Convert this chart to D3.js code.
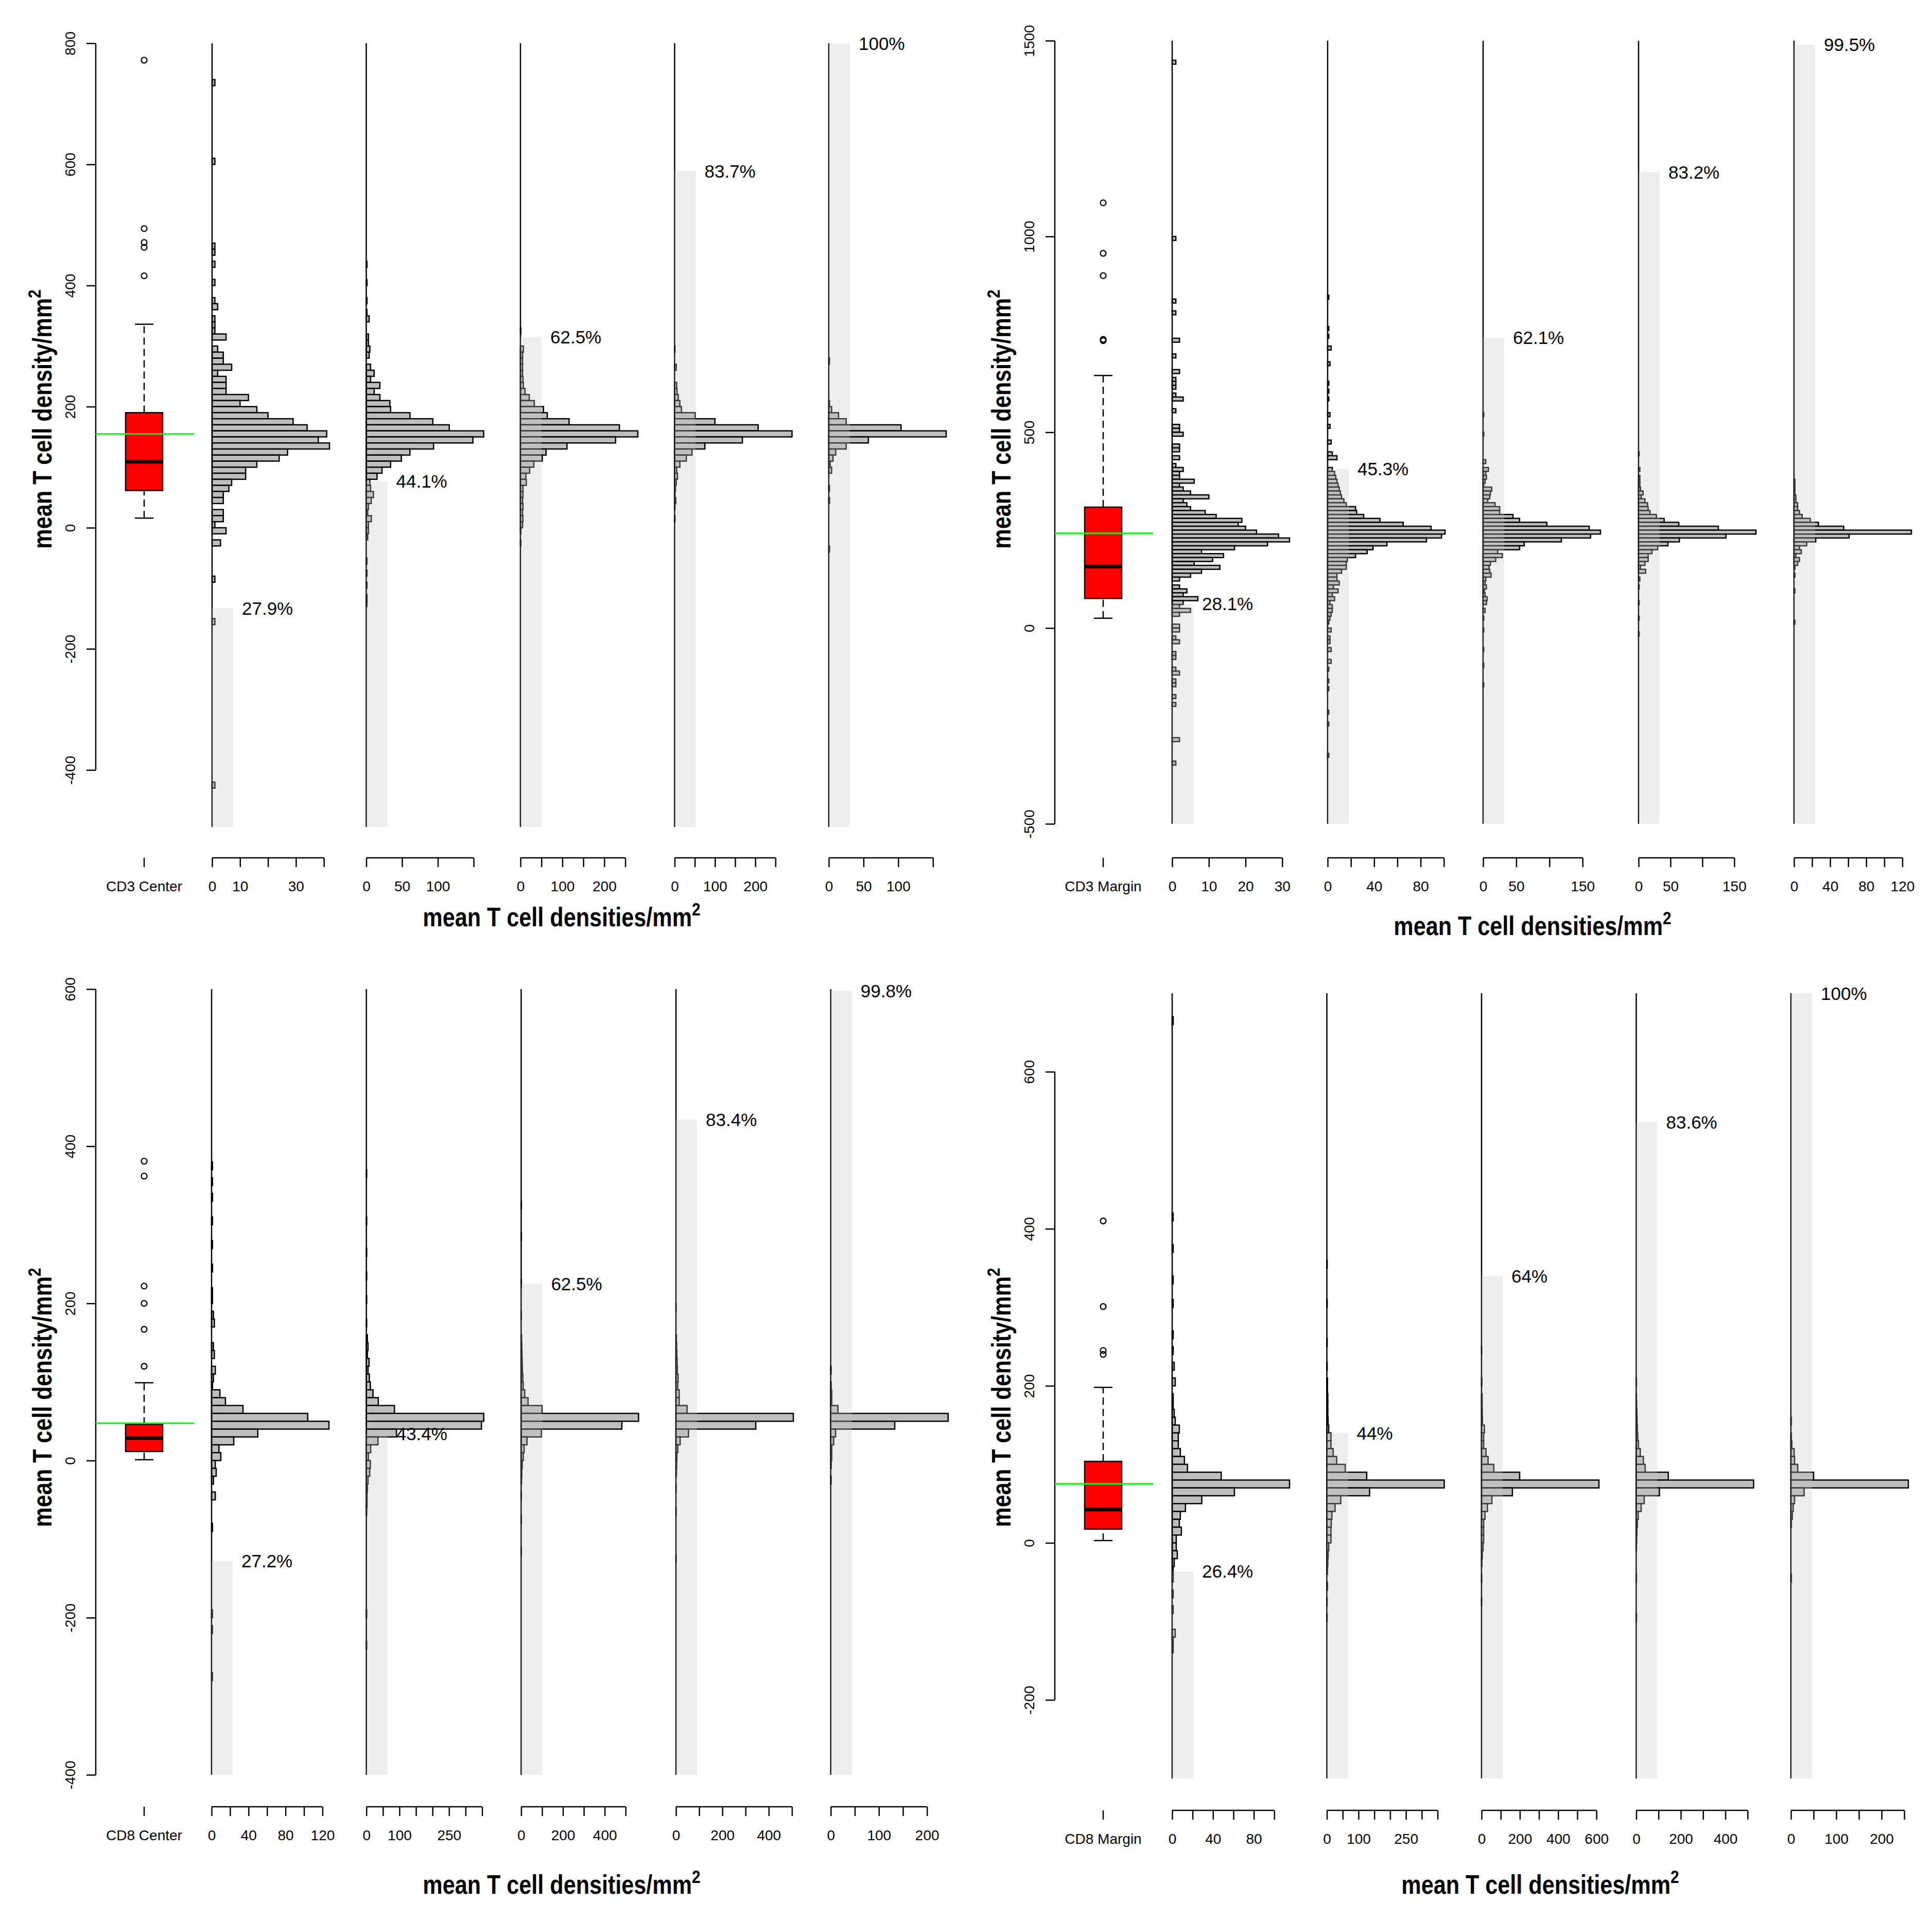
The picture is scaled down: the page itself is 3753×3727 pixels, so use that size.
<!DOCTYPE html>
<html><head><meta charset="utf-8">
<script src="https://cdn.jsdelivr.net/npm/d3@7"></script>
<style>html,body{margin:0;padding:0;background:#fff;} text{font-family:"Liberation Sans",Arial,Helvetica,sans-serif;fill:#000;}</style>
</head><body><svg id="chart" width="3753" height="3727" xmlns="http://www.w3.org/2000/svg"></svg>
<script>
// ---------------- DATA ----------------
const BIN = 10;
const categories = ["CD3 Center", "CD3 Margin", "CD8 Center", "CD8 Margin"];
const yAxisTitle = "mean T cell density/mm";
const xAxisTitle = "mean T cell densities/mm";

// y domains and y ticks
const yDomCD3C = [-494, 800];  const yTicksCD3C = [-400, -200, 0, 200, 400, 600, 800];
const yDomCD3M = [-500, 1500]; const yTicksCD3M = [-500, 0, 500, 1000, 1500];
const yDomCD8C = [-400, 600];  const yTicksCD8C = [-400, -200, 0, 200, 400, 600];
const yDomCD8M = [-300, 700];  const yTicksCD8M = [-200, 0, 200, 400, 600];

// boxplot stats: [lower whisker, Q1, median, Q3, upper whisker]
const boxCD3C = [16, 61.5, 109, 190, 336];
const boxCD3M = [25, 75.6, 157, 308.7, 645];
const boxCD8C = [1, 11.5, 28.5, 46, 99];
const boxCD8M = [3, 17.5, 42.4, 103.7, 198];
const outCD3C = [772, 494, 471, 463, 416];
const outCD3M = [1086, 957, 900, 737, 734];
const outCD8C = [381, 362, 222, 200, 167, 120];
const outCD8M = [410, 301, 245, 240];
const meanCD3C = 155, meanCD3M = 242, meanCD8C = 47.5, meanCD8M = 75.3;

// percentages (grey background bars)
const pctCD3C = [27.9, 44.1, 62.5, 83.7, 100];
const pctCD3M = [28.1, 45.3, 62.1, 83.2, 99.5];
const pctCD8C = [27.2, 43.4, 62.5, 83.4, 99.8];
const pctCD8M = [26.4, 44, 64, 83.6, 100];

// bottom axis ticks and their labels per histogram
const xtCD3C = [[0,10,20,30,40],[0,50,100,150],[0,50,100,150,200,250],[0,50,100,150,200,250],[0,50,100,150]];
const xlCD3C = [["0","10","","30",""],["0","50","100",""],["0","","100","","200",""],["0","","100","","200",""],["0","50","100",""]];
const xtCD3M = [[0,10,20,30],[0,20,40,60,80,100],[0,50,100,150],[0,50,100,150],[0,20,40,60,80,100,120]];
const xlCD3M = [["0","10","20","30"],["0","","40","","80",""],["0","50","","150"],["0","50","","150"],["0","","40","","80","","120"]];
const xtCD8C = [[0,20,40,60,80,100,120],[0,50,100,150,200,250,300,350],[0,100,200,300,400,500],[0,100,200,300,400,500],[0,50,100,150,200]];
const xlCD8C = [["0","","40","","80","","120"],["0","","100","","","250","",""],["0","","200","","400",""],["0","","200","","400",""],["0","","100","","200"]];
const xtCD8M = [[0,20,40,60,80,100],[0,50,100,150,200,250,300,350],[0,100,200,300,400,500,600],[0,100,200,300,400,500],[0,50,100,150,200,250]];
const xlCD8M = [["0","","40","","80",""],["0","","100","","","250","",""],["0","","200","","400","","600"],["0","","200","","400",""],["0","","100","","200",""]];

// histograms: [bin start, count], bin width = BIN
const hCD3C_1 = [[730,1],[600,1],[460,1],[450,1],[430,1],[400,1],[370,1],[360,2],[340,1],[330,1],[320,1],[310,5],[290,2],[280,4],[270,4],[260,7],[250,2],[240,5],[230,5],[220,5],[210,13],[200,10],[190,16],[180,20],[170,29],[160,34],[150,41],[140,38],[130,42],[120,27],[110,24],[100,16],[90,12],[80,12],[70,7],[60,6],[50,4],[40,4],[20,4],[10,4],[0,1],[-10,5],[-30,3],[-90,1],[-160,1],[-430,1]];
const hCD3C_2 = [[430,1],[400,1],[370,1],[350,1],[340,4],[310,3],[300,3],[290,5],[280,4],[260,6],[250,11],[240,6],[230,19],[220,11],[210,19],[200,33],[190,34],[180,61],[170,93],[160,116],[150,164],[140,149],[130,94],[120,61],[110,49],[100,34],[90,22],[80,15],[70,5],[60,6],[50,10],[40,7],[30,3],[20,2],[10,7],[0,3],[-10,3],[-20,2],[-60,1],[-80,1],[-100,1],[-120,1],[-130,1]];
const hCD3C_3 = [[320,1],[290,7],[280,5],[270,5],[260,5],[250,5],[240,6],[230,7],[220,11],[210,21],[200,33],[190,55],[180,64],[170,116],[160,236],[150,280],[140,227],[130,111],[120,61],[110,52],[100,32],[90,22],[80,13],[70,14],[60,6],[50,6],[40,5],[30,6],[20,5],[10,6],[0,5],[-10,1],[-30,1]];
const hCD3C_4 = [[290,1],[260,4],[230,5],[220,6],[210,9],[200,13],[190,17],[180,51],[170,100],[160,207],[150,291],[140,168],[130,75],[120,43],[110,29],[100,13],[90,5],[80,7],[70,4],[60,2],[50,1],[40,3],[30,1],[10,1]];
const hCD3C_5 = [[270,1],[200,1],[190,4],[180,14],[170,25],[160,104],[150,169],[140,57],[130,25],[120,10],[110,6],[100,2],[90,4],[60,1],[40,1],[-40,1]];

const hCD3M_1 = [[1440,1],[990,1],[830,1],[800,1],[730,2],[690,1],[650,2],[630,1],[620,1],[610,1],[590,1],[580,3],[550,1],[510,2],[500,2],[490,3],[460,2],[450,2],[430,2],[410,1],[400,3],[390,2],[380,2],[370,6],[360,2],[350,3],[340,5],[330,10],[320,3],[310,4],[300,5],[290,9],[280,12],[270,19],[260,18],[250,20],[240,23],[230,29],[220,32],[210,26],[200,17],[190,8],[180,14],[170,11],[160,6],[150,13],[140,8],[130,5],[120,2],[100,2],[90,4],[80,3],[70,7],[60,3],[50,2],[40,5],[30,2],[0,2],[-10,2],[-30,1],[-40,2],[-70,1],[-80,1],[-110,1],[-120,2],[-140,1],[-150,1],[-180,1],[-200,1],[-290,2],[-350,1]];
const hCD3M_2 = [[840,1],[760,1],[740,1],[710,3],[670,2],[620,1],[600,1],[580,1],[540,2],[510,2],[470,3],[440,4],[430,8],[400,4],[390,6],[380,7],[370,8],[360,9],[350,10],[340,11],[330,12],[320,14],[310,16],[300,24],[290,25],[280,31],[270,45],[260,65],[250,89],[240,101],[230,98],[220,85],[210,51],[200,39],[190,34],[180,24],[170,17],[160,16],[150,16],[140,12],[130,8],[120,8],[110,10],[100,5],[90,9],[80,4],[70,6],[60,2],[50,4],[40,4],[30,3],[20,2],[10,1],[-10,3],[-30,2],[-40,2],[-60,3],[-90,3],[-110,1],[-140,1],[-160,1],[-220,1],[-250,1],[-330,1]];
const hCD3M_3 = [[540,1],[490,1],[420,4],[400,8],[390,4],[380,5],[370,3],[360,1],[350,13],[340,11],[330,10],[320,7],[310,18],[300,25],[290,25],[280,45],[270,55],[260,96],[250,160],[240,177],[230,162],[220,118],[210,62],[200,55],[190,22],[180,29],[170,19],[160,11],[150,9],[140,10],[130,12],[120,4],[110,3],[100,5],[90,2],[80,3],[70,6],[60,5],[40,3],[20,1],[-10,1],[-60,1],[-100,1],[-150,1]];
const hCD3M_4 = [[440,1],[400,2],[380,2],[370,2],[360,2],[350,3],[340,7],[330,4],[320,10],[310,14],[300,15],[290,18],[280,28],[270,40],[260,63],[250,125],[240,184],[230,137],[220,64],[210,46],[200,30],[190,21],[180,15],[170,15],[160,10],[150,3],[140,11],[120,2],[100,1],[60,1],[20,1],[-20,1]];
const hCD3M_5 = [[370,1],[360,1],[350,1],[340,1],[330,2],[320,2],[310,4],[300,4],[290,6],[280,9],[270,18],[260,27],[250,55],[240,130],[230,61],[220,24],[210,14],[200,6],[190,8],[180,2],[170,6],[160,4],[150,1],[130,1],[90,1],[10,1]];

const hCD8C_1 = [[370,1],[350,1],[330,1],[300,1],[270,1],[240,1],[210,1],[200,1],[180,2],[170,3],[140,2],[130,3],[110,4],[100,2],[90,1],[80,9],[70,15],[60,34],[50,104],[40,127],[30,50],[20,24],[10,8],[0,10],[-10,4],[-20,5],[-30,2],[-50,4],[-90,1],[-200,1],[-220,1],[-280,1]];
const hCD8C_2 = [[360,1],[300,1],[260,1],[230,1],[200,1],[170,1],[150,3],[140,5],[130,3],[120,8],[110,5],[100,9],[90,12],[80,20],[70,36],[60,85],[50,355],[40,348],[30,91],[20,35],[10,13],[0,6],[-10,12],[-20,10],[-30,5],[-40,3],[-50,2],[-60,2],[-70,1],[-200,1],[-240,1]];
const hCD8C_3 = [[320,1],[280,1],[220,1],[180,1],[150,2],[140,3],[130,4],[120,5],[110,6],[100,8],[90,10],[80,17],[70,33],[60,100],[50,562],[40,482],[30,97],[20,28],[10,14],[0,10],[-10,5],[-20,3],[-30,2],[-50,1],[-80,1],[-120,1]];
const hCD8C_4 = [[190,1],[150,2],[140,3],[130,4],[120,5],[110,6],[100,9],[90,8],[80,14],[70,14],[60,48],[50,506],[40,344],[30,54],[20,18],[10,8],[0,4],[-10,3],[-20,2],[-40,1],[-70,1],[-130,1]];
const hCD8C_5 = [[110,1],[90,1],[80,2],[70,2],[60,15],[50,244],[40,133],[30,10],[20,6],[10,2],[0,2],[-10,1],[-30,1]];

const hCD8M_1 = [[660,1],[410,1],[370,1],[330,1],[300,1],[260,1],[240,1],[220,2],[200,3],[180,1],[170,1],[160,2],[150,3],[140,7],[130,6],[120,6],[110,8],[100,12],[90,15],[80,48],[70,115],[60,61],[50,29],[40,13],[30,8],[20,7],[10,9],[0,4],[-10,4],[-20,5],[-30,2],[-40,1],[-50,1],[-70,1],[-90,1],[-120,3],[-130,1],[-140,1]];
const hCD8M_2 = [[350,1],[300,1],[250,1],[220,1],[200,2],[190,2],[180,3],[170,3],[160,3],[150,4],[140,6],[130,13],[120,13],[110,20],[100,31],[90,58],[80,126],[70,371],[60,135],[50,44],[40,26],[30,16],[20,14],[10,13],[0,13],[-10,6],[-20,4],[-30,3],[-40,2],[-60,2],[-80,1],[-100,1]];
const hCD8M_3 = [[240,1],[200,2],[180,3],[170,3],[160,4],[150,5],[140,15],[130,11],[120,11],[110,23],[100,34],[90,64],[80,199],[70,613],[60,161],[50,54],[40,31],[30,18],[20,11],[10,11],[0,11],[-10,8],[-20,4],[-30,2],[-50,1],[-80,1]];
const hCD8M_4 = [[200,1],[180,1],[170,2],[160,3],[150,4],[140,5],[130,7],[120,10],[110,18],[100,32],[90,40],[80,144],[70,527],[60,104],[50,36],[40,22],[30,9],[20,5],[10,3],[0,2],[-10,1],[-50,1],[-100,1]];
const hCD8M_5 = [[150,1],[130,1],[120,2],[110,7],[100,8],[90,15],[80,50],[70,259],[60,29],[50,8],[40,5],[30,3],[20,1],[-50,1]];

// ---------------- LAYOUT (positions only) ----------------
const layout = [
  {axisX:186, boxX:280, ylabX:100, ylabY:814, yTop:84, yBot:1606, axisY:1666, colX0:412, colStep:299.5, titleX:1091, titleY:1799},
  {axisX:2049, boxX:2143, ylabX:1963, ylabY:814, yTop:79, yBot:1600, axisY:1666, colX0:2277, colStep:302, titleX:2977, titleY:1816},
  {axisX:186, boxX:280, ylabX:100, ylabY:2714, yTop:1921, yBot:3447, axisY:3509, colX0:411, colStep:300.7, titleX:1091, titleY:3678},
  {axisX:2049, boxX:2143, ylabX:1963, ylabY:2714, yTop:1929, yBot:3454, axisY:3516, colX0:2277, colStep:300.5, titleX:2992, titleY:3678}
];
const HIST_W = 228, BAND_W = 41, LW = 2.5;

const panels = [
  {name:categories[0], yDom:yDomCD3C, yTicks:yTicksCD3C, box:boxCD3C, out:outCD3C, mean:meanCD3C, pct:pctCD3C, xt:xtCD3C, xl:xlCD3C, hists:[hCD3C_1,hCD3C_2,hCD3C_3,hCD3C_4,hCD3C_5]},
  {name:categories[1], yDom:yDomCD3M, yTicks:yTicksCD3M, box:boxCD3M, out:outCD3M, mean:meanCD3M, pct:pctCD3M, xt:xtCD3M, xl:xlCD3M, hists:[hCD3M_1,hCD3M_2,hCD3M_3,hCD3M_4,hCD3M_5]},
  {name:categories[2], yDom:yDomCD8C, yTicks:yTicksCD8C, box:boxCD8C, out:outCD8C, mean:meanCD8C, pct:pctCD8C, xt:xtCD8C, xl:xlCD8C, hists:[hCD8C_1,hCD8C_2,hCD8C_3,hCD8C_4,hCD8C_5]},
  {name:categories[3], yDom:yDomCD8M, yTicks:yTicksCD8M, box:boxCD8M, out:outCD8M, mean:meanCD8M, pct:pctCD8M, xt:xtCD8M, xl:xlCD8M, hists:[hCD8M_1,hCD8M_2,hCD8M_3,hCD8M_4,hCD8M_5]}
];

const svg = d3.select("#chart");
svg.append("rect").attr("width",3753).attr("height",3727).attr("fill","#fff");

panels.forEach((p, pi) => {
  const L = layout[pi];
  const g = svg.append("g");
  const y = d3.scaleLinear().domain(p.yDom).range([L.yBot, L.yTop]);

  // y axis
  const ya = g.append("g").attr("transform", `translate(${L.axisX},0)`)
    .call(d3.axisLeft(y).tickValues(p.yTicks).tickSize(18).tickFormat(d => String(d)));
  ya.select(".domain").remove();
  ya.append("line").attr("x1",0).attr("x2",0)
    .attr("y1", y(d3.min(p.yTicks))).attr("y2", y(d3.max(p.yTicks)))
    .attr("stroke","#000").attr("stroke-width",LW);
  ya.selectAll(".tick line").attr("stroke","#000").attr("stroke-width",LW);
  ya.selectAll(".tick text").attr("x",0).attr("dy",null).attr("y",0)
    .attr("transform","translate(-40,0) rotate(-90)")
    .attr("text-anchor","middle").attr("font-size",28).attr("fill","#000")
    .style("font-family",'"Liberation Sans",Arial,sans-serif');

  // y axis title
  const yt = g.append("text")
    .attr("transform", `translate(${L.ylabX},${L.ylabY}) rotate(-90) scale(0.83,1)`)
    .attr("text-anchor","middle").attr("font-size",52).attr("font-weight","bold");
  yt.append("tspan").text(yAxisTitle);
  yt.append("tspan").attr("dy",-21).attr("font-size",36).text("2");

  // x axis title
  const xt = g.append("text")
    .attr("transform", `translate(${L.titleX},${L.titleY}) scale(0.83,1)`)
    .attr("text-anchor","middle").attr("font-size",52).attr("font-weight","bold");
  xt.append("tspan").text(xAxisTitle);
  xt.append("tspan").attr("dy",-21).attr("font-size",36).text("2");

  // boxplot
  const [lo, q1, med, q3, hi] = p.box;
  const bx = L.boxX, bw = 36;
  g.append("line").attr("x1",bx).attr("x2",bx).attr("y1",y(lo)).attr("y2",y(q1))
    .attr("stroke","#000").attr("stroke-width",LW).attr("stroke-dasharray","14,8");
  g.append("line").attr("x1",bx).attr("x2",bx).attr("y1",y(q3)).attr("y2",y(hi))
    .attr("stroke","#000").attr("stroke-width",LW).attr("stroke-dasharray","14,8");
  [lo, hi].forEach(v => g.append("line").attr("x1",bx-bw/2).attr("x2",bx+bw/2).attr("y1",y(v)).attr("y2",y(v))
    .attr("stroke","#000").attr("stroke-width",LW));
  g.append("rect").attr("x",bx-bw).attr("width",2*bw).attr("y",y(q3)).attr("height",y(q1)-y(q3))
    .attr("fill","#ff0000").attr("stroke","#000").attr("stroke-width",LW);
  g.append("line").attr("x1",bx-bw).attr("x2",bx+bw).attr("y1",y(med)).attr("y2",y(med))
    .attr("stroke","#000").attr("stroke-width",7);
  g.selectAll(null).data(p.out).join("circle")
    .attr("cx",bx).attr("cy",d=>y(d)).attr("r",5.5)
    .attr("fill","none").attr("stroke","#000").attr("stroke-width",2.3);
  g.append("line").attr("x1",L.axisX).attr("x2",bx+97).attr("y1",y(p.mean)).attr("y2",y(p.mean))
    .attr("stroke","#00ff00").attr("stroke-width",3);
  // category tick + label
  g.append("line").attr("x1",bx).attr("x2",bx).attr("y1",L.axisY).attr("y2",L.axisY+18)
    .attr("stroke","#000").attr("stroke-width",LW);
  g.append("text").attr("x",bx).attr("y",L.axisY+65).attr("text-anchor","middle")
    .attr("font-size",28).text(p.name);

  // histograms
  p.hists.forEach((h, i) => {
    const x0 = L.colX0 + i * L.colStep;
    const x = d3.scaleLinear().domain([0, d3.max(h, d => d[1])]).range([x0, x0 + HIST_W]);
    const hg = g.append("g");
    hg.selectAll("rect.bar").data(h).join("rect").attr("class","bar")
      .attr("x", x(0)).attr("y", d => y(d[0] + BIN))
      .attr("width", d => x(d[1]) - x(0)).attr("height", d => y(d[0]) - y(d[0] + BIN))
      .attr("fill","#bebebe").attr("stroke","#000").attr("stroke-width",LW);
    // vertical line
    hg.append("line").attr("x1",x(0)).attr("x2",x(0)).attr("y1",L.yTop).attr("y2",L.yBot)
      .attr("stroke","#000").attr("stroke-width",LW);
    // grey band (semi-transparent, drawn over bars)
    const pv = p.yDom[0] + p.pct[i] / 100 * (p.yDom[1] - p.yDom[0]);
    hg.append("rect").attr("x", x(0)).attr("width", BAND_W)
      .attr("y", y(pv)).attr("height", y(p.yDom[0]) - y(pv))
      .attr("fill","rgb(200,200,200)").attr("fill-opacity",0.3);
    // percentage label
    hg.append("text").attr("x", x(0) + 58).attr("y", y(pv)).attr("dominant-baseline","central")
      .attr("font-size",35).text(p.pct[i] + "%");
    // bottom axis
    const ticks = p.xt[i], labs = p.xl[i];
    const xa = hg.append("g").attr("transform", `translate(0,${L.axisY})`)
      .call(d3.axisBottom(x).tickValues(ticks).tickSize(18).tickFormat((d, j) => labs[j]));
    xa.select(".domain").remove();
    xa.append("line").attr("x1", x(0)).attr("x2", x(d3.max(ticks))).attr("y1",0).attr("y2",0)
      .attr("stroke","#000").attr("stroke-width",LW);
    xa.selectAll(".tick line").attr("stroke","#000").attr("stroke-width",LW);
    xa.selectAll(".tick text").attr("y",65).attr("dy",null).attr("font-size",28).attr("fill","#000")
      .style("font-family",'"Liberation Sans",Arial,sans-serif');
  });
});
</script></body></html>
